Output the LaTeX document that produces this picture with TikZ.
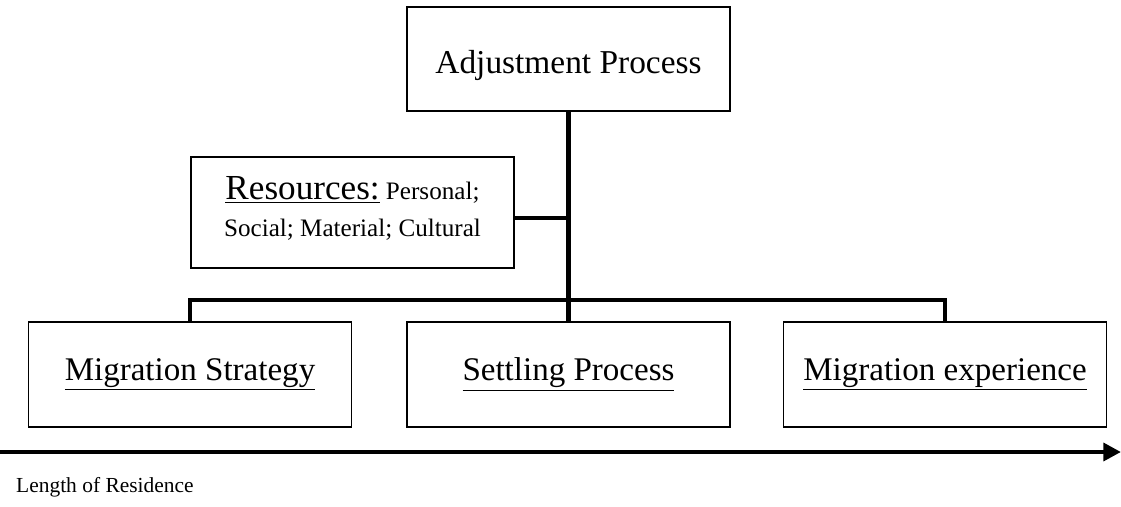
\documentclass[tikz,border=0pt]{standalone}
\usepackage{fontspec}
\setmainfont{Liberation Serif}
\usetikzlibrary{arrows.meta}
\tikzset{
  box/.style={draw,line width=1.1pt,minimum width=6.46cm,inner sep=0pt},
  link/.style={line width=2.8pt},
}
\begin{document}
\begin{tikzpicture}[>=stealth,scale=1]
  \useasboundingbox (0,0) rectangle (22.42,10.12);
  % top box
  \node[box,minimum height=2.08cm,font=\fontsize{19}{22}\selectfont,text height=21pt,text depth=4pt] (adj) at (11.37,8.94) {Adjustment Process};
  % resources box
  \node[box,minimum height=2.22cm] (res) at (7.05,5.87) {};
  \node[anchor=north,align=center,font=\fontsize{14.3}{21}\selectfont] (restext) at (7.05,6.72)
    {{\fontsize{20}{21}\selectfont\underline{Resources:}} Personal;\\ Social; Material; Cultural};
  % bottom boxes
  \node[box,minimum height=2.1cm,font=\fontsize{18.8}{22}\selectfont] (strat) at (3.80,2.63) {\underline{Migration Strategy}};
  \node[box,minimum height=2.1cm,font=\fontsize{18.8}{22}\selectfont] (settle) at (11.37,2.63) {\underline{Settling Process}};
  \node[box,minimum height=2.1cm,font=\fontsize{18.8}{22}\selectfont] (exper) at (18.90,2.63) {\underline{Migration experience}};
  % trunk and bus
  \coordinate (bus) at (11.37,4.12);
  \coordinate (resjoin) at (11.37,5.76);
  \coordinate (resout) at (10.28,5.76);
  \draw[link] (adj.south) -- (settle.north);
  \draw[link] (resout) -- (resjoin);
  \draw[link] (strat.north) -- (strat.north |- bus) -- (exper.north |- bus) -- (exper.north);
  % time axis
  \coordinate (axstart) at (0,1.08);
  \coordinate (axend) at (22.42,1.08);
  \draw[link,-{Triangle[length=10pt,width=10pt]}] (axstart) -- (axend);
  \node[anchor=west,font=\fontsize{12.2}{15}\selectfont] (axlabel) at (0.2,0.38) {Length of Residence};
\end{tikzpicture}
\end{document}
